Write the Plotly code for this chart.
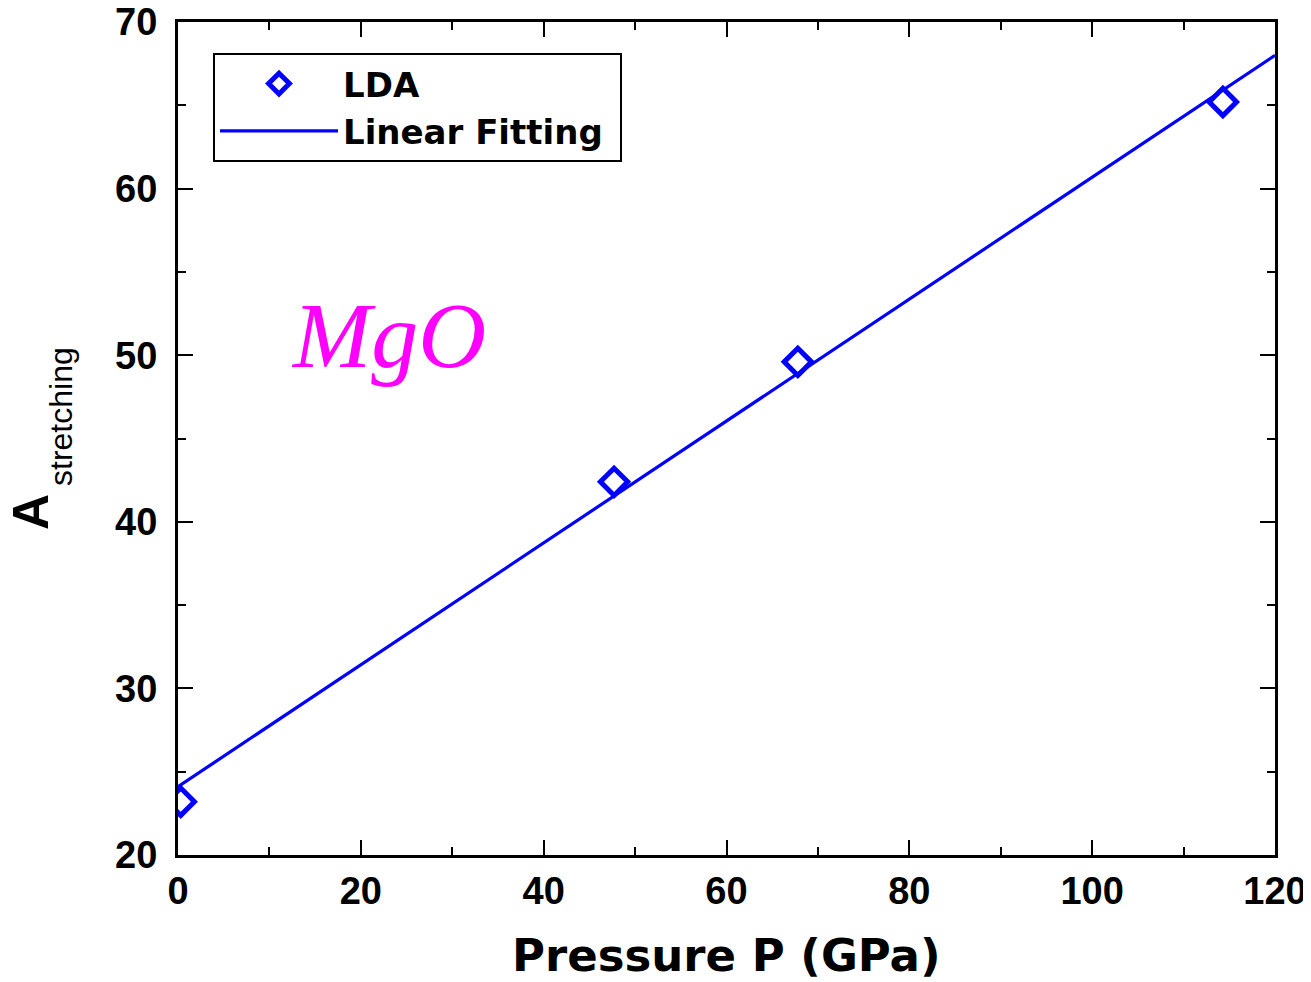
import plotly.graph_objects as go

# ---- data ----
lda_pressure = [0.3, 47.7, 67.8, 114.3]
lda_a = [23.2, 42.4, 49.6, 65.2]
fit_pressure = [0, 120]
fit_a = [24.1, 68.0]

x_ticks = [0, 20, 40, 60, 80, 100, 120]
y_ticks = [20, 30, 40, 50, 60, 70]

# page offset (default body margin of the html page)
OFF = 8
W, H = 1311, 982
# target plot area in page pixels: x 178..1275, y 22..855
L, T = 178 - OFF, 22 - OFF
R = W - (1275 - OFF)
B = H - (855 - OFF)
PW, PH = W - L - R, H - T - B

def px(xp):
    """page pixel x -> paper coordinate"""
    return (xp - OFF - L) / PW

def py(yp):
    """page pixel y -> paper coordinate"""
    return (H - B - (yp - OFF)) / PH

BLUE = "#0000ff"
FONT = "Liberation Sans"
WIDE = "DejaVu Sans"

fig = go.Figure()
fig.add_trace(go.Scatter(
    x=lda_pressure, y=lda_a, mode="markers", name="LDA",
    marker=dict(symbol="diamond-open", size=21, color=BLUE,
                line=dict(width=5, color=BLUE)),
))
fig.add_trace(go.Scatter(
    x=fit_pressure, y=fit_a, mode="lines", name="Linear Fitting\u00a0",
    line=dict(color=BLUE, width=3.2),
))

axis_common = dict(
    showline=True, linecolor="black", linewidth=3, mirror="ticks",
    ticks="inside", ticklen=15, tickwidth=2, tickcolor="black",
    showgrid=False, zeroline=False, automargin=False,
    ticklabeloverflow="allow",
    tickfont=dict(family=FONT, size=38, color="black", weight="bold"),
)

fig.update_xaxes(range=[0, 120], tickvals=x_ticks, ticklabelstandoff=0,
                 minor=dict(dtick=10, ticklen=8, tickwidth=2, ticks="inside",
                            tickcolor="black", showgrid=False),
                 **axis_common)
fig.update_yaxes(range=[20, 70], tickvals=y_ticks, ticklabelstandoff=10,
                 minor=dict(dtick=5, ticklen=8, tickwidth=2, ticks="inside",
                            tickcolor="black", showgrid=False),
                 **axis_common)

# dark frame strip at the right edge
fig.add_shape(type="rect", xref="paper", yref="paper", layer="below",
              x0=px(1307), x1=px(1330), y0=py(1000), y1=py(-20),
              fillcolor="#12233f", line=dict(width=0))

fig.add_annotation(xref="paper", yref="paper", x=px(726), y=py(956),
                   text="<b>Pressure P (GPa)</b>", showarrow=False,
                   xanchor="center", yanchor="middle",
                   font=dict(family=WIDE, size=45, color="black"))
# y-axis title: "A" with subscript "stretching"
fig.add_annotation(xref="paper", yref="paper", x=px(31), y=py(512),
                   text="<b>A</b>", showarrow=False,
                   textangle=-90, xanchor="center", yanchor="middle",
                   font=dict(family=FONT, size=50, color="black"))
fig.add_annotation(xref="paper", yref="paper", x=px(61), y=py(417),
                   text="stretching", showarrow=False,
                   textangle=-90, xanchor="center", yanchor="middle",
                   font=dict(family=FONT, size=32, color="black"))
fig.add_annotation(xref="paper", yref="paper", x=px(388), y=py(335),
                   text="<i>MgO</i>", showarrow=False,
                   xanchor="center", yanchor="middle",
                   font=dict(family="Liberation Serif", size=94, color="#ff00ff"))

fig.update_layout(
    width=W, height=H,
    margin=dict(l=L, r=R, t=T, b=B, pad=0, autoexpand=False),
    paper_bgcolor="white", plot_bgcolor="white",
    showlegend=True,
    legend=dict(x=px(213), y=py(53), xanchor="left", yanchor="top",
                bgcolor="white", bordercolor="black", borderwidth=2,
                itemwidth=118, tracegroupgap=0,
                font=dict(family=WIDE, size=34, color="black", weight="bold")),
)

fig.write_html("out.html")
